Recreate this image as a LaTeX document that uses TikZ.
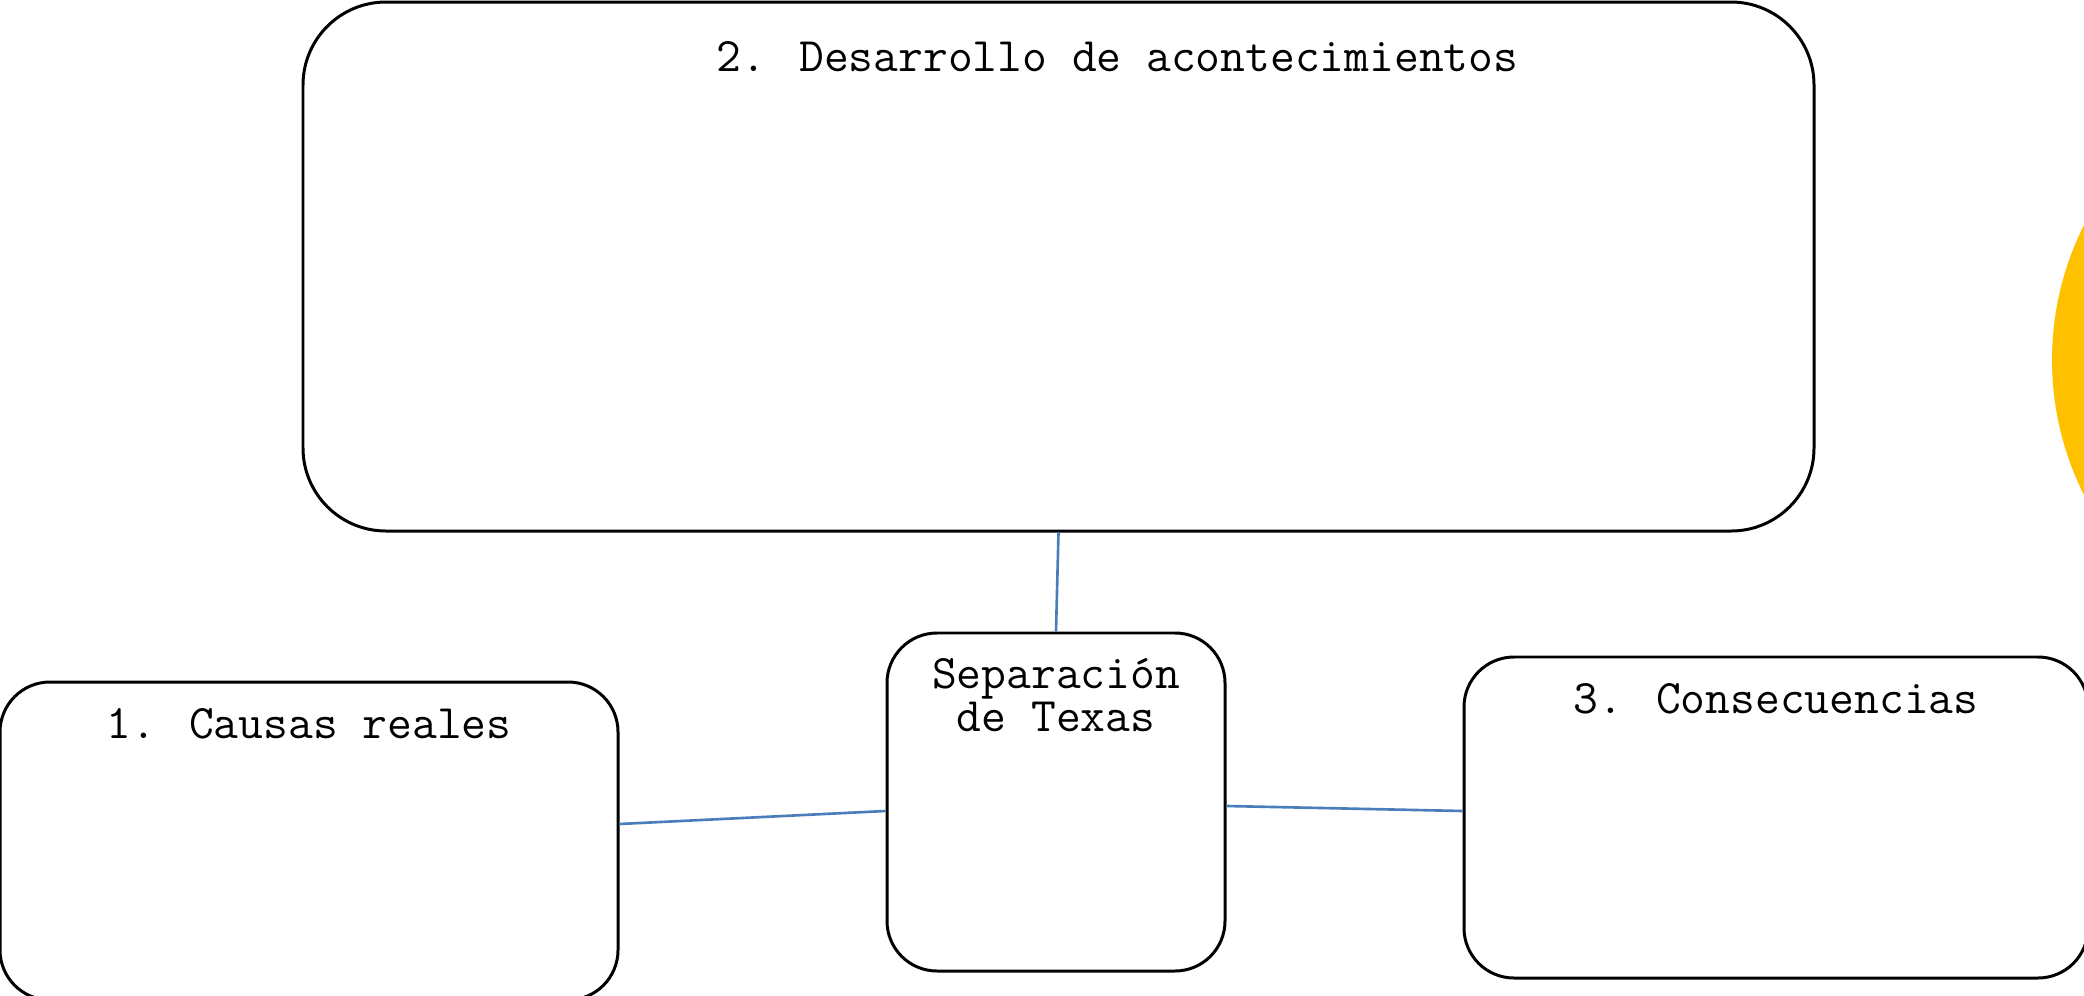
\documentclass[tikz,border=0pt]{standalone}
\usepackage{fontspec}
\usepackage{xcolor}
\usetikzlibrary{positioning}

\definecolor{linkblue}{HTML}{4A7EBB}
\definecolor{sunyellow}{HTML}{FFC000}

\begin{document}
\begin{tikzpicture}
  [
    node distance = 1cm,
    box/.style = {rectangle, draw, line width = 0.85pt, fill = white},
    bigbox/.style = {box, rounded corners = 0.83cm,
                     minimum width = 15.11cm, minimum height = 5.29cm},
    smallbox/.style = {box, rounded corners = 0.5cm},
    boxtext/.style = {font = \ttfamily\fontsize{13.7}{12.2}\selectfont, align = center,
                      inner sep = 0pt, anchor = base},
    link/.style = {draw = linkblue, line width = 0.75pt},
  ]
  \useasboundingbox (0,0) rectangle (20.84,-9.95);
  \fill[sunyellow] (23.52,-3.60) circle (3.00);

  \node[bigbox] (desarrollo) at (10.585,-2.665) {};
  \node[smallbox, minimum width = 3.38cm, minimum height = 3.38cm]
      [below = 0.99cm of desarrollo, xshift = -0.025cm] (separacion) {};
  \node[smallbox, minimum width = 6.18cm, minimum height = 3.18cm]
      [left = 2.66cm of separacion, yshift = -0.39cm] (causas) {};
  \node[smallbox, minimum width = 6.24cm, minimum height = 3.21cm]
      [right = 2.36cm of separacion, yshift = -0.155cm] (consecuencias) {};

  % text sits on its baseline (last line for the two-line one)
  \node[boxtext] (desarrollo_txt) at ([xshift = 0.59cm, yshift = -0.71cm]desarrollo.north)
      {2. Desarrollo de acontecimientos};
  \node[boxtext] (separacion_txt) at ([yshift = -1.00cm]separacion.north)
      {Separación\\de Texas};
  \node[boxtext] (causas_txt) at ([yshift = -0.58cm]causas.north) {1. Causas reales};
  \node[boxtext] (consecuencias_txt) at ([yshift = -0.58cm]consecuencias.north)
      {3. Consecuencias};

  \draw[link] (desarrollo.south) -- (separacion.north);
  \draw[link] ([yshift = 0.17cm]causas.east) -- ([yshift = -0.09cm]separacion.west);
  \draw[link] ([yshift = -0.04cm]separacion.east) -- ([yshift = 0.065cm]consecuencias.west);
\end{tikzpicture}
\end{document}
